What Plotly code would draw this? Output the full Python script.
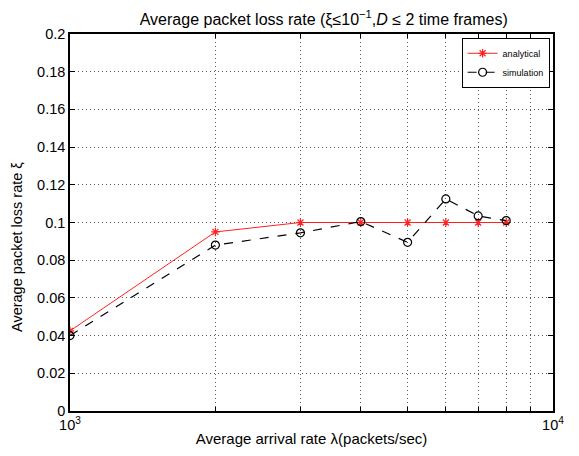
import plotly.graph_objects as go

arrival_rate = [1000, 2000, 3000, 4000, 5000, 6000, 7000, 8000]
analytical = [0.0425, 0.095, 0.1, 0.1, 0.1, 0.1, 0.1, 0.1]
simulation = [0.040, 0.088, 0.0945, 0.1005, 0.0895, 0.1125, 0.1035, 0.101]

x_tickvals = [1000, 2000, 3000, 4000, 5000, 6000, 7000, 8000, 9000, 10000]
x_ticktext = ["10<sup>3</sup>", "", "", "", "", "", "", "", "", "10<sup>4</sup>"]
y_tickvals = [0, 0.02, 0.04, 0.06, 0.08, 0.1, 0.12, 0.14, 0.16, 0.18, 0.2]
y_ticktext = ["0", "0.02", "0.04", "0.06", "0.08", "0.1", "0.12", "0.14", "0.16", "0.18", "0.2"]

fig = go.Figure()
fig.add_trace(go.Scatter(
    x=arrival_rate, y=analytical, name="analytical", mode="lines+markers",
    line=dict(color="#ff2020", width=1),
    marker=dict(symbol="asterisk-open", size=7, color="#ff2020", line=dict(color="#ff2020", width=1.2)),
))
fig.add_trace(go.Scatter(
    x=arrival_rate, y=simulation, name="simulation", mode="lines+markers",
    line=dict(color="black", width=1.2, dash="dash"),
    marker=dict(symbol="circle-open", size=8, color="black", line=dict(color="black", width=1.2)),
))

font = "Liberation Sans, Arial, sans-serif"
grid_dash = "1px,3px"
fig.update_layout(
    width=571, height=448,
    margin=dict(l=62, r=26, t=26, b=45, autoexpand=False),
    paper_bgcolor="white", plot_bgcolor="white",
    font=dict(family=font, size=14, color="black"),
    title=dict(text="Average packet loss rate (ξ≤10<sup>−1</sup>,<i>D</i> ≤ 2 time frames)",
               x=0.553, xanchor="center", y=0.988, yanchor="top",
               font=dict(family=font, size=16, color="black")),
    showlegend=True,
    legend=dict(x=0.993, y=0.99, xanchor="right", yanchor="top",
                bgcolor="white", bordercolor="black", borderwidth=1,
                font=dict(family=font, size=9), itemwidth=30, tracegroupgap=0),
    xaxis=dict(type="log", range=[3, 4], tickvals=x_tickvals, ticktext=x_ticktext,
               showgrid=True, gridcolor="#555555", griddash=grid_dash, gridwidth=1,
               ticks="inside", ticklen=4, tickcolor="black",
               tickfont=dict(family=font, size=14.5, color="black"),
               showline=True, linecolor="black", linewidth=1.5, mirror="ticks",
               zeroline=False, automargin=False,
               title=dict(text="Average arrival rate λ(packets/sec)", standoff=1,
                          font=dict(family=font, size=15, color="black"))),
    yaxis=dict(range=[0, 0.2], tickvals=y_tickvals, ticktext=y_ticktext,
               showgrid=True, gridcolor="#555555", griddash=grid_dash, gridwidth=1,
               ticks="inside", ticklen=5, tickcolor="black",
               tickfont=dict(family=font, size=14.5, color="black"),
               showline=True, linecolor="black", linewidth=1.5, mirror="ticks",
               zeroline=False, automargin=False),
    annotations=[dict(text="Average packet loss rate ξ", textangle=-90,
                      xref="paper", yref="paper", x=0, y=0.435,
                      xanchor="center", yanchor="middle", xshift=-53, showarrow=False,
                      font=dict(family=font, size=14.5, color="black"))],
)

fig.write_html("out.html")
